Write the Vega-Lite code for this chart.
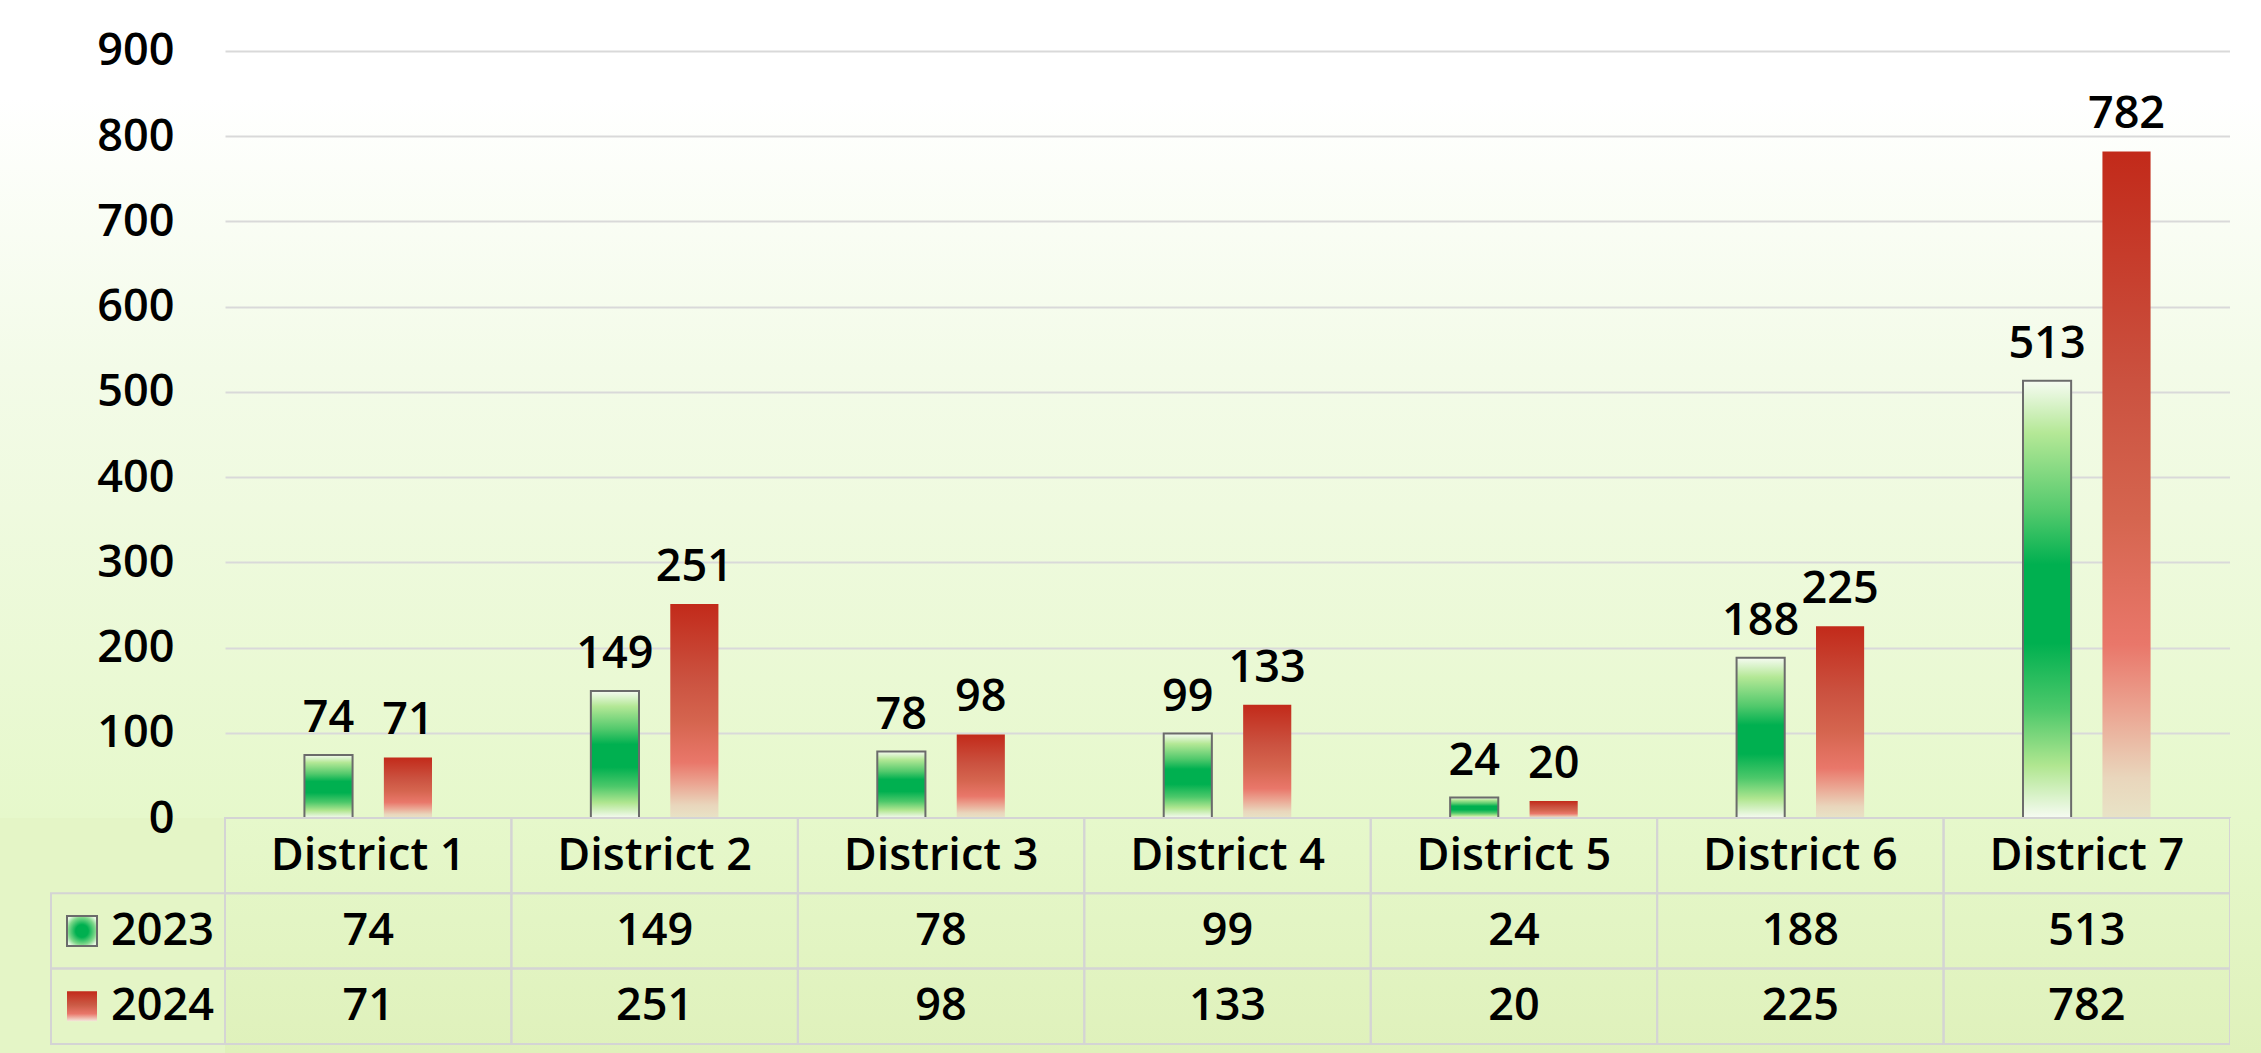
{
  "$schema": "https://vega.github.io/schema/vega-lite/v6.json",
  "padding": 0,
  "background": "#e4f5c6",
  "bounds": "flush",
  "spacing": 0,
  "columns": 4,
  "datasets": {
    "d": [
      {"district": "District 1", "year": "2023", "value": 74},
      {"district": "District 1", "year": "2024", "value": 71},
      {"district": "District 2", "year": "2023", "value": 149},
      {"district": "District 2", "year": "2024", "value": 251},
      {"district": "District 3", "year": "2023", "value": 78},
      {"district": "District 3", "year": "2024", "value": 98},
      {"district": "District 4", "year": "2023", "value": 99},
      {"district": "District 4", "year": "2024", "value": 133},
      {"district": "District 5", "year": "2023", "value": 24},
      {"district": "District 5", "year": "2024", "value": 20},
      {"district": "District 6", "year": "2023", "value": 188},
      {"district": "District 6", "year": "2024", "value": 225},
      {"district": "District 7", "year": "2023", "value": 513},
      {"district": "District 7", "year": "2024", "value": 782}
    ]
  },
  "config": {
    "view": {"stroke": null},
    "font": "Open Sans",
    "text": {"font": "Open Sans", "fontSize": 45, "fontWeight": 600, "color": "#000000"}
  },
  "concat": [
    {
      "width": 51, "height": 818,
      "view": {"fill": {"gradient": "linear", "x1": 0, "y1": 0, "x2": 0, "y2": 1, "stops": [{"offset": 0, "color": "#ffffff"}, {"offset": 0.12, "color": "#ffffff"}, {"offset": 0.45, "color": "#f3fbe8"}, {"offset": 1, "color": "#e6f8cb"}]}},
      "data": {"values": []},
      "mark": {"type": "rect", "opacity": 0},
      "encoding": {}
    },
    {
      "width": 174, "height": 818,
      "view": {"fill": {"gradient": "linear", "x1": 0, "y1": 0, "x2": 0, "y2": 1, "stops": [{"offset": 0, "color": "#ffffff"}, {"offset": 0.12, "color": "#ffffff"}, {"offset": 0.45, "color": "#f3fbe8"}, {"offset": 1, "color": "#e6f8cb"}]}},
      "data": {"values": []},
      "mark": {"type": "rect", "opacity": 0},
      "encoding": {}
    },
    {
      "width": 2005, "height": 818,
      "view": {"fill": {"gradient": "linear", "x1": 0, "y1": 0, "x2": 0, "y2": 1, "stops": [{"offset": 0, "color": "#ffffff"}, {"offset": 0.12, "color": "#ffffff"}, {"offset": 0.45, "color": "#f3fbe8"}, {"offset": 1, "color": "#e6f8cb"}]}},
      "data": {"name": "d"},
      "encoding": {
        "x": {"field": "district", "type": "nominal", "sort": null, "scale": {"paddingInner": 0, "paddingOuter": 0}, "axis": null},
        "xOffset": {"field": "year", "type": "nominal", "scale": {"paddingInner": 0.394, "paddingOuter": 1.045}},
        "y": {
          "field": "value", "type": "quantitative",
          "scale": {"domain": [0, 959.75], "nice": false, "zero": true},
          "axis": {
            "values": [0, 100, 200, 300, 400, 500, 600, 700, 800, 900],
            "title": null, "ticks": false, "domain": false,
            "labelPadding": 51, "labelFont": "Open Sans", "labelFontSize": 45, "labelFontWeight": 600, "labelColor": "#000000",
            "grid": true, "gridColor": "#d9d9d9", "gridWidth": 2
          }
        }
      },
      "layer": [
        {
          "transform": [{"filter": "datum.year == '2023'"}],
          "mark": {
            "type": "bar", "stroke": "#6b6b6b", "strokeWidth": 2,
            "fill": {"gradient": "linear", "x1": 0, "y1": 0, "x2": 0, "y2": 1, "stops": [
              {"offset": 0, "color": "#f6fbf2"},
              {"offset": 0.12, "color": "#b4e896"},
              {"offset": 0.3, "color": "#52c96c"},
              {"offset": 0.42, "color": "#00b050"},
              {"offset": 0.6, "color": "#00b050"},
              {"offset": 0.75, "color": "#4cc86a"},
              {"offset": 0.88, "color": "#b0e690"},
              {"offset": 1, "color": "#f6fbf2"}
            ]}
          }
        },
        {
          "transform": [{"filter": "datum.year == '2024'"}],
          "mark": {
            "type": "bar",
            "fill": {"gradient": "linear", "x1": 0, "y1": 0, "x2": 0, "y2": 1, "stops": [
              {"offset": 0, "color": "#c22a1a"},
              {"offset": 0.35, "color": "#cb5240"},
              {"offset": 0.55, "color": "#d5654f"},
              {"offset": 0.74, "color": "#e9776a"},
              {"offset": 0.84, "color": "#eba592"},
              {"offset": 0.94, "color": "#e9d6bc"},
              {"offset": 1, "color": "#e8e3c6"}
            ]}
          }
        },
        {
          "mark": {"type": "text", "baseline": "alphabetic", "dy": -23, "fontSize": 45, "fontWeight": 600},
          "encoding": {"text": {"field": "value", "type": "quantitative"}}
        }
      ]
    },
    {
      "width": 31, "height": 818,
      "view": {"fill": {"gradient": "linear", "x1": 0, "y1": 0, "x2": 0, "y2": 1, "stops": [{"offset": 0, "color": "#ffffff"}, {"offset": 0.12, "color": "#ffffff"}, {"offset": 0.45, "color": "#f3fbe8"}, {"offset": 1, "color": "#e6f8cb"}]}},
      "data": {"values": []},
      "mark": {"type": "rect", "opacity": 0},
      "encoding": {}
    },
    {
      "width": 51, "height": 235,
      "data": {"values": []},
      "mark": {"type": "rect", "opacity": 0},
      "encoding": {}
    },
    {
      "width": 174, "height": 235,
      "data": {"name": "d"},
      "transform": [{"filter": "datum.district == 'District 1'"}],
      "encoding": {
        "y": {"field": "year", "type": "nominal", "scale": {"domain": ["hdr", "2023", "2024"], "paddingInner": 0, "paddingOuter": 0.0604, "align": 0}, "axis": null}
      },
      "layer": [
        {
          "mark": {"type": "rect", "filled": false, "stroke": "#d4d4d4", "strokeWidth": 2}
        },
        {
          "transform": [{"filter": "datum.year == '2023'"}],
          "mark": {
            "type": "point", "shape": "square", "size": 900, "filled": true, "opacity": 1, "stroke": "#6b6b6b", "strokeWidth": 2,
            "fill": {"gradient": "radial", "x1": 0.5, "y1": 0.5, "r1": 0, "x2": 0.5, "y2": 0.5, "r2": 0.6, "stops": [
              {"offset": 0, "color": "#00b050"},
              {"offset": 0.35, "color": "#00b050"},
              {"offset": 0.75, "color": "#7fd88a"},
              {"offset": 1, "color": "#e6f8e0"}
            ]}
          },
          "encoding": {"x": {"datum": "sw", "type": "nominal", "scale": {"type": "point", "domain": ["sw", "lab"], "padding": 0.581, "align": 0.3316}, "axis": null}}
        },
        {
          "transform": [{"filter": "datum.year == '2024'"}],
          "mark": {
            "type": "point", "shape": "square", "size": 900, "filled": true, "opacity": 1, "strokeWidth": 0,
            "fill": {"gradient": "linear", "x1": 0, "y1": 0, "x2": 0, "y2": 1, "stops": [
              {"offset": 0, "color": "#c22a1a"},
              {"offset": 0.45, "color": "#cb5a45"},
              {"offset": 0.75, "color": "#e9776a"},
              {"offset": 1, "color": "#f4e8dc"}
            ]}
          },
          "encoding": {"x": {"datum": "sw", "type": "nominal"}}
        },
        {
          "mark": {"type": "text", "baseline": "middle", "align": "center"},
          "encoding": {"x": {"datum": "lab", "type": "nominal"}, "text": {"field": "year"}}
        }
      ]
    },
    {
      "width": 2005, "height": 235,
      "view": {"fill": {"gradient": "linear", "x1": 0, "y1": 0, "x2": 0, "y2": 1, "stops": [{"offset": 0, "color": "#e6f8cb"}, {"offset": 1, "color": "#dff1bb"}]}},
      "data": {"name": "d"},
      "encoding": {
        "x": {"field": "district", "type": "nominal", "sort": null, "scale": {"paddingInner": 0, "paddingOuter": 0}, "axis": null}
      },
      "layer": [
        {
          "mark": {"type": "rect", "filled": false, "stroke": "#d4d4d4", "strokeWidth": 2},
          "encoding": {"y": {"field": "year", "type": "nominal", "scale": {"domain": ["hdr", "2023", "2024"], "paddingInner": 0, "paddingOuter": 0.0604, "align": 0}, "axis": null}}
        },
        {
          "transform": [{"filter": "datum.year == '2023'"}],
          "mark": {"type": "rect", "filled": false, "stroke": "#d4d4d4", "strokeWidth": 2},
          "encoding": {"y": {"datum": "hdr", "type": "nominal"}}
        },
        {
          "mark": {"type": "text", "baseline": "middle", "align": "center"},
          "encoding": {"y": {"field": "year", "type": "nominal"}, "text": {"field": "value", "type": "quantitative"}}
        },
        {
          "transform": [{"filter": "datum.year == '2023'"}],
          "mark": {"type": "text", "baseline": "middle", "align": "center"},
          "encoding": {"y": {"datum": "hdr", "type": "nominal"}, "text": {"field": "district"}}
        }
      ]
    },
    {
      "width": 31, "height": 235,
      "view": {"fill": {"gradient": "linear", "x1": 0, "y1": 0, "x2": 0, "y2": 1, "stops": [{"offset": 0, "color": "#e6f8cb"}, {"offset": 1, "color": "#dff1bb"}]}},
      "data": {"values": []},
      "mark": {"type": "rect", "opacity": 0},
      "encoding": {}
    }
  ]
}
